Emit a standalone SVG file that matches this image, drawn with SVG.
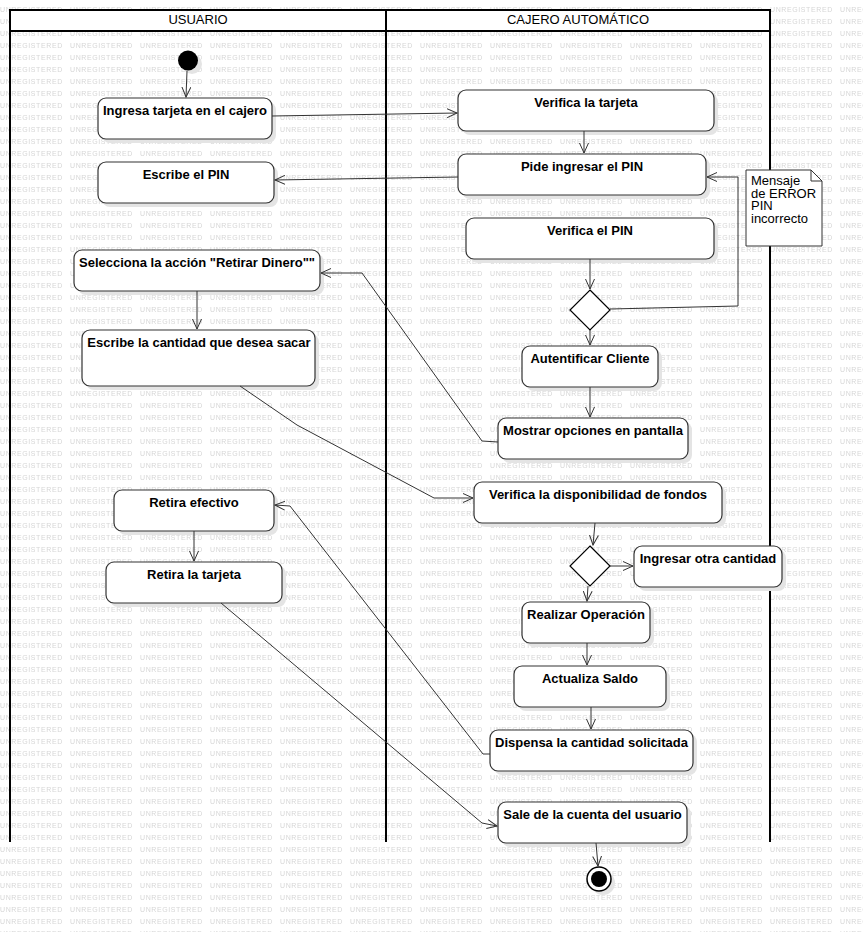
<svg xmlns="http://www.w3.org/2000/svg" width="863" height="932" viewBox="0 0 863 932">
<defs>
<pattern id="wm" x="0" y="0" width="70" height="12" patternUnits="userSpaceOnUse">
<text x="0" y="11.5" font-family="Liberation Sans, Arial, sans-serif" font-size="7" letter-spacing="0.6" fill="#d6d6d6">UNREGISTERED</text>
</pattern>
<marker id="arr" markerWidth="12" markerHeight="10" refX="10" refY="5" orient="auto" markerUnits="userSpaceOnUse">
<path d="M0,0.5 L10,5 L0,9.5" fill="none" stroke="#333" stroke-width="1"/>
</marker>
<style>
.lane{fill:none;stroke:#000;stroke-width:2}
.hdr{font-family:"Liberation Sans",Arial,sans-serif;font-size:13px;text-anchor:middle;fill:#000}
.nd{fill:#fff;stroke:#333;stroke-width:1.2}
.sh{fill:#e4e4e4}
.lbl{font-family:"Liberation Sans",Arial,sans-serif;font-size:13px;font-weight:bold;text-anchor:middle;fill:#000}
.note{font-family:"Liberation Sans",Arial,sans-serif;font-size:13px;fill:#000}
.dec{fill:#fff;stroke:#000;stroke-width:1.2}
#connectors path{fill:none;stroke:#333;stroke-width:1;marker-end:url(#arr)}
</style>
</defs>
<rect x="0" y="0" width="863" height="932" fill="#fff"/>
<rect x="0" y="0" width="863" height="932" fill="url(#wm)"/>

<g id="lanes">
<rect x="10" y="10" width="760" height="21" fill="#fff" stroke="#000" stroke-width="2"/>
<line class="lane" x1="10" y1="10" x2="10" y2="842"/>
<line class="lane" x1="386" y1="10" x2="386" y2="842"/>
<line class="lane" x1="770" y1="10" x2="770" y2="842"/>
<text class="hdr" x="198" y="24">USUARIO</text>
<text class="hdr" x="578" y="24">CAJERO AUTOMÁTICO</text>
</g>

<g id="start">
<circle cx="192" cy="64" r="10" class="sh"/>
<circle cx="188" cy="60.5" r="10" fill="#000"/>
</g>

<g id="n-ingresa"><rect class="sh" x="102" y="102" width="174" height="41" rx="8"/><rect class="nd" x="98" y="98" width="174" height="41" rx="8"/><text class="lbl" x="185" y="115">Ingresa tarjeta en el cajero</text></g>
<g id="n-verifica-tarjeta"><rect class="sh" x="462" y="94" width="256" height="41" rx="8"/><rect class="nd" x="458" y="90" width="256" height="41" rx="8"/><text class="lbl" x="586" y="107">Verifica la tarjeta</text></g>
<g id="n-pide-pin"><rect class="sh" x="462" y="158" width="248" height="41" rx="8"/><rect class="nd" x="458" y="154" width="248" height="41" rx="8"/><text class="lbl" x="582" y="171">Pide ingresar el PIN</text></g>
<g id="n-escribe-pin"><rect class="sh" x="102" y="166" width="176" height="41" rx="8"/><rect class="nd" x="98" y="162" width="176" height="41" rx="8"/><text class="lbl" x="186" y="179">Escribe el PIN</text></g>
<g id="n-verifica-pin"><rect class="sh" x="470" y="222" width="248" height="41" rx="8"/><rect class="nd" x="466" y="218" width="248" height="41" rx="8"/><text class="lbl" x="590" y="235">Verifica el PIN</text></g>

<g id="note-error">
<path d="M746,170 L811,170 L822,181 L822,246 L746,246 Z" fill="#fff" stroke="#333" stroke-width="1"/>
<path d="M811,170 L811,181 L822,181" fill="none" stroke="#333" stroke-width="1"/>
<text class="note" x="751" y="185"><tspan x="751" y="185">Mensaje</tspan><tspan x="751" y="198">de ERROR</tspan><tspan x="751" y="210">PIN</tspan><tspan x="751" y="223">incorrecto</tspan></text>
</g>

<g id="d-pin"><path class="dec" d="M590,290 L610,310 L590,330 L570,310 Z"/></g>

<g id="n-selecciona"><rect class="sh" x="78" y="254" width="246" height="41" rx="8"/><rect class="nd" x="74" y="250" width="246" height="41" rx="8"/><text class="lbl" x="197" y="267">Selecciona la acción "Retirar Dinero""</text></g>
<g id="n-escribe-cantidad"><rect class="sh" x="86" y="334" width="233" height="56" rx="8"/><rect class="nd" x="82" y="330" width="233" height="56" rx="8"/><text class="lbl" x="199" y="347">Escribe la cantidad que desea sacar</text></g>
<g id="n-autentificar"><rect class="sh" x="526" y="350" width="136" height="41" rx="8"/><rect class="nd" x="522" y="346" width="136" height="41" rx="8"/><text class="lbl" x="590" y="363">Autentificar Cliente</text></g>
<g id="n-mostrar"><rect class="sh" x="502" y="422" width="190" height="41" rx="8"/><rect class="nd" x="498" y="418" width="190" height="41" rx="8"/><text class="lbl" x="593" y="435">Mostrar opciones en pantalla</text></g>
<g id="n-verifica-fondos"><rect class="sh" x="478" y="486" width="248" height="41" rx="8"/><rect class="nd" x="474" y="482" width="248" height="41" rx="8"/><text class="lbl" x="598" y="499">Verifica la disponibilidad de fondos</text></g>

<g id="d-fondos"><path class="dec" d="M590,546 L610,566 L590,586 L570,566 Z"/></g>

<g id="n-otra-cantidad"><rect class="sh" x="638" y="550" width="148" height="41" rx="8"/><rect class="nd" x="634" y="546" width="148" height="41" rx="8"/><text class="lbl" x="708" y="563">Ingresar otra cantidad</text></g>
<g id="n-realizar"><rect class="sh" x="526" y="606" width="128" height="41" rx="8"/><rect class="nd" x="522" y="602" width="128" height="41" rx="8"/><text class="lbl" x="586" y="619">Realizar Operación</text></g>
<g id="n-actualiza"><rect class="sh" x="518" y="670" width="152" height="41" rx="8"/><rect class="nd" x="514" y="666" width="152" height="41" rx="8"/><text class="lbl" x="590" y="683">Actualiza Saldo</text></g>
<g id="n-dispensa"><rect class="sh" x="494" y="734" width="203" height="41" rx="8"/><rect class="nd" x="490" y="730" width="203" height="41" rx="8"/><text class="lbl" x="591.5" y="747">Dispensa la cantidad solicitada</text></g>
<g id="n-retira-efectivo"><rect class="sh" x="118" y="494" width="160" height="41" rx="8"/><rect class="nd" x="114" y="490" width="160" height="41" rx="8"/><text class="lbl" x="194" y="507">Retira efectivo</text></g>
<g id="n-retira-tarjeta"><rect class="sh" x="110" y="566" width="176" height="41" rx="8"/><rect class="nd" x="106" y="562" width="176" height="41" rx="8"/><text class="lbl" x="194" y="579">Retira la tarjeta</text></g>
<g id="n-sale"><rect class="sh" x="502" y="806" width="189" height="41" rx="8"/><rect class="nd" x="498" y="802" width="189" height="41" rx="8"/><text class="lbl" x="592.5" y="819">Sale de la cuenta del usuario</text></g>

<g id="end">
<circle cx="603" cy="883" r="12" class="sh"/>
<circle cx="599" cy="879" r="12" fill="#fff" stroke="#000" stroke-width="1.5"/>
<circle cx="599" cy="879" r="8" fill="#000"/>
</g>

<g id="connectors">
<path d="M187,71 L186,97"/>
<path d="M272,116 L457,113"/>
<path d="M584,131 L584,153"/>
<path d="M458,177 L275,180"/>
<path d="M590,259 L590,289"/>
<path d="M610,309 L738,306 L738,177 L707,177"/>
<path d="M590,330 L590,345"/>
<path d="M590,387 L590,417"/>
<path d="M498,442 L482,441 L362,273 L321,273"/>
<path d="M197,291 L197,329"/>
<path d="M240,386 L297,425 L434,498 L473,498"/>
<path d="M595,523 L593,545"/>
<path d="M610,566 L633,566"/>
<path d="M588,586 L587,601"/>
<path d="M587,643 L587,665"/>
<path d="M591,707 L591,729"/>
<path d="M490,754 L483,754 L290,506 L275,505"/>
<path d="M194,531 L194,561"/>
<path d="M221,603 L482,823 L497,826"/>
<path d="M596,843 L598,866"/>
</g>
</svg>
